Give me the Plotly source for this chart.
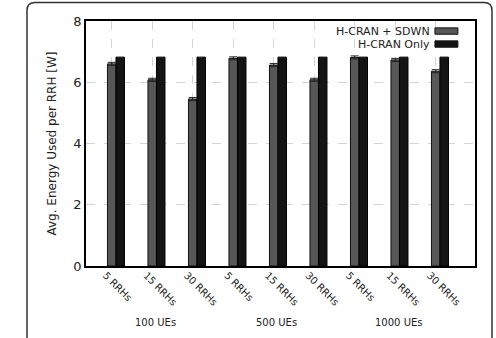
import plotly.graph_objects as go

rrh_labels = ["5 RRHs", "15 RRHs", "30 RRHs"] * 3
ue_groups = ["100 UEs", "500 UEs", "1000 UEs"]
sdwn = [6.60, 6.08, 5.45, 6.78, 6.56, 6.08, 6.81, 6.73, 6.36]
sdwn_err = [0.05] * 9
only = [6.82, 6.82, 6.82, 6.82, 6.82, 6.82, 6.82, 6.82, 6.82]
series_names = ["H-CRAN + SDWN", "H-CRAN Only"]
colors = ["#575757", "#141414"]

idx = list(range(len(rrh_labels)))
FONT = "DejaVu Sans"

fig = go.Figure()
fig.add_trace(go.Bar(x=idx, y=sdwn, width=0.21, offset=-0.105,
                     marker=dict(color=colors[0], line=dict(color="#111", width=1)),
                     error_y=dict(type="data", array=sdwn_err, color="#222", thickness=1, width=4),
                     name=series_names[0], showlegend=False))
fig.add_trace(go.Bar(x=idx, y=only, width=0.21, offset=0.105,
                     marker=dict(color=colors[1], line=dict(color="#000", width=1)),
                     name=series_names[1], showlegend=False))

fig.update_layout(
    width=496, height=338,
    margin=dict(l=86, r=21, t=21, b=72),
    paper_bgcolor="white", plot_bgcolor="white",
    barmode="overlay",
    font=dict(family=FONT, color="#222"),
    xaxis=dict(range=[-0.635, 8.97], tickmode="array", tickvals=idx, ticktext=rrh_labels,
               tickangle=45, tickfont=dict(size=10), ticklabelshift=-6, ticklabelstandoff=-2,
               showgrid=True, gridcolor="#d4d4d4", griddash="dash", gridwidth=1,
               showline=True, linecolor="black", linewidth=1.5, mirror=True,
               ticks="", zeroline=False),
    yaxis=dict(range=[0, 8], tickvals=[0, 2, 4, 6, 8], tickfont=dict(size=13),
               showgrid=True, gridcolor="#d4d4d4", griddash="dash", gridwidth=1,
               showline=True, linecolor="black", linewidth=1.5, mirror=True,
               ticks="", zeroline=False,
               title=dict(text="Avg. Energy Used per RRH [W]", font=dict(size=12), standoff=14)),
)

for g, name in enumerate(ue_groups):
    fig.add_annotation(x=g * 3 + 1.08, y=-0.23, xref="x", yref="paper", text=name,
                       showarrow=False, font=dict(size=10, color="#222"),
                       xanchor="center", yanchor="middle")

# legend (text left of swatch, as in reference)
leg_y = [0.959, 0.906]
for name, c, yy in zip(series_names, colors, leg_y):
    fig.add_annotation(x=0.889, y=yy, xref="paper", yref="paper", text=name,
                       showarrow=False, font=dict(size=11, color="#222"),
                       xanchor="right", yanchor="middle")
    fig.add_shape(type="rect", xref="paper", yref="paper",
                  x0=0.897, x1=0.956, y0=yy - 0.013, y1=yy + 0.013,
                  fillcolor=c, line=dict(color="#111", width=1))

# outer rounded frame
x0, x1, y0, y1 = -0.1517, 1.0437, -0.35, 1.0755
rx, ry = 0.0206, 0.0327
path = (f"M {x0},{y0} L {x0},{y1-ry} Q {x0},{y1} {x0+rx},{y1} "
        f"L {x1-rx},{y1} Q {x1},{y1} {x1},{y1-ry} L {x1},{y0}")
fig.add_shape(type="path", xref="paper", yref="paper", path=path,
              line=dict(color="#333", width=1.5), layer="above")

fig.write_html("out.html")
